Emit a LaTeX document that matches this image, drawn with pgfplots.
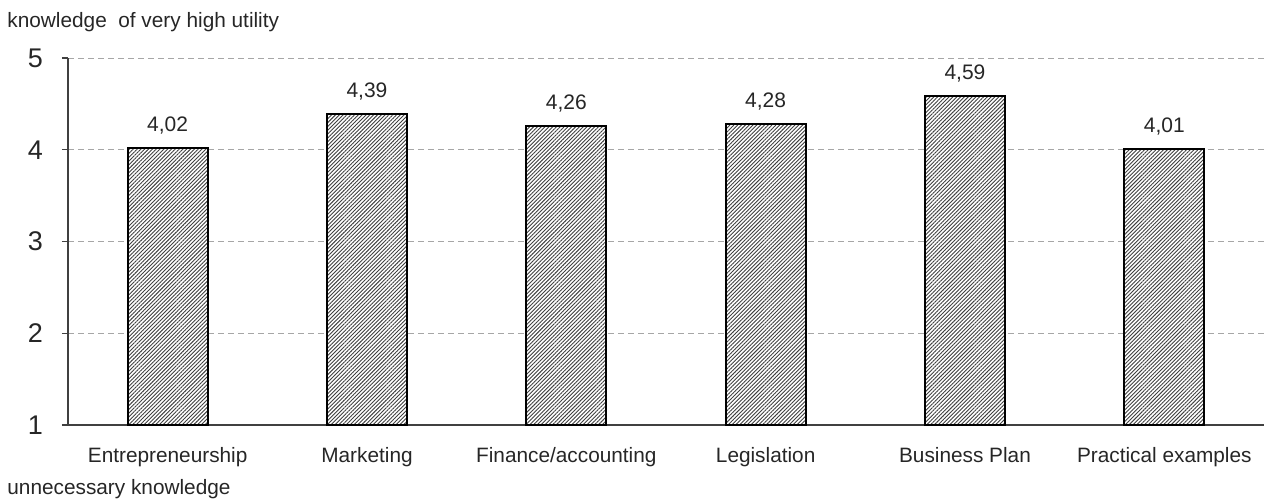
\documentclass[border=0pt]{standalone}
\usepackage{pgfplots}
\pgfplotsset{compat=1.18}
\usepackage{fontspec}
\setmainfont{Liberation Sans}
\usetikzlibrary{patterns.meta}
\begin{document}
\begin{tikzpicture}
\useasboundingbox (-34pt,-37.5pt) rectangle (599pt,212.5pt);
\begin{axis}[
  at={(0pt,0pt)}, anchor=south west,
  scale only axis, width=598pt, height=183.5pt,
  xmin=-0.5, xmax=5.5, ymin=1, ymax=5,
  axis x line*=bottom, axis y line*=left,
  axis line style={-, black!75, line width=0.6pt},
  ytick={1,2,3,4,5},
  ymajorgrids, grid style={densely dashed, black!35, line width=0.4pt},
  xtick={0,1,2,3,4,5},
  xticklabels={Entrepreneurship, Marketing, Finance/accounting, Legislation, Business Plan, Practical examples},
  x tick style={draw=none},
  minor xtick={-0.5,0.5,1.5,2.5,3.5,4.5,5.5},
  minor x tick style={black!75, line width=0.6pt},
  y tick style={black!75, line width=0.6pt},
  tick align=outside, major tick length=3pt, minor tick length=3pt,
  xticklabel style={font=\fontsize{10.4}{12}\selectfont, text=black!85, yshift=-4.5pt},
  yticklabel style={font=\fontsize{13.5}{15}\selectfont, text=black!85, xshift=-6pt},
  /pgf/number format/assume math mode=true,
]
\addplot[ybar, bar width=40pt, draw=black, line width=1pt, fill=white,
    postaction={pattern={Lines[angle=45,distance=1.35pt,line width=0.45pt]}, pattern color=black!75},
    nodes near coords,
    nodes near coords style={font=\fontsize{10.5}{12}\selectfont, text=black!85, yshift=3pt,
      /pgf/number format/.cd, fixed, fixed zerofill, precision=2, use comma}]
  coordinates {(0,4.02) (1,4.39) (2,4.26) (3,4.28) (4,4.59) (5,4.01)};
\end{axis}
\node[anchor=base west, font=\fontsize{10.4}{12}\selectfont, text=black!85, inner sep=0pt] at (-30.5pt,199pt) {knowledge\ \ of very high utility};
\node[anchor=base west, font=\fontsize{10.4}{12}\selectfont, text=black!85, inner sep=0pt] at (-30.5pt,-34.5pt) {unnecessary knowledge};
\end{tikzpicture}
\end{document}
